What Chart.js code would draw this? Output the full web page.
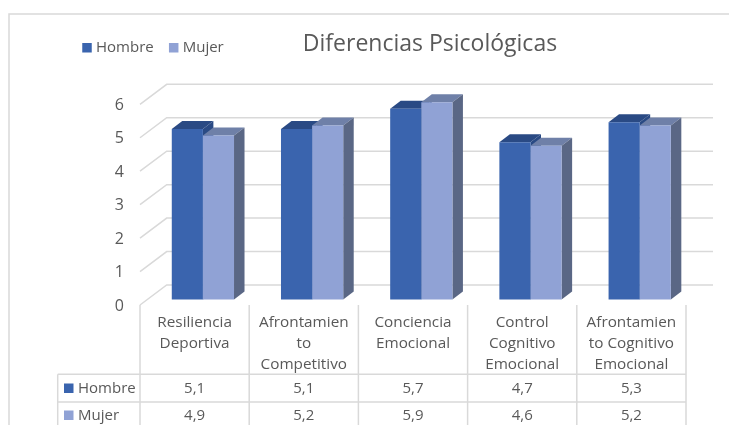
<!DOCTYPE html>
<html><head><meta charset="utf-8">
<style>html,body{margin:0;padding:0;background:#fff}canvas{display:block}</style>
<script src="https://cdn.jsdelivr.net/npm/chart.js@4"></script>
</head><body><canvas id="c" width="729" height="425"></canvas>
<script>
const categories=[['Resiliencia','Deportiva'],['Afrontamien','to','Competitivo'],['Conciencia','Emocional'],['Control','Cognitivo','Emocional'],['Afrontamien','to Cognitivo','Emocional']];
const hombre=[5.1,5.1,5.7,4.7,5.3];
const mujer=[4.9,5.2,5.9,4.6,5.2];
const yTicks=[0,1,2,3,4,5,6];
const titleText='Diferencias Psicológicas';
const FONT='"Open Sans"';
const TXT='#595959',GRID='#D9D9D9';
const C={h:'#3A64AE',m:'#90A2D5',hTop:'#2A4A84',hSide:'#2A4A84',mTop:'#6F80A8',mSide:'#5A6785'};
const UNIT=33.45, BAR_ZERO_SHIFT=6.5, BAR_X_SHIFT=8.3/109.2, AREA_H=222;
const points=a=>a.map((v,i)=>({x:i,y:v}));
const comma=v=>String(v).replace('.',',');

const deco={id:'deco',
 afterLayout(ch){
  const L=ch.legend,T=ch.titleBlock;
  L.left=67;L.top=21.8;
  const w=T.right-T.left;T.left=430-w/2;T.right=430+w/2;T.top=30.5;
 },
 beforeDatasetsDraw(ch){
  const c=ch.ctx,a=ch.chartArea,y=ch.scales.y;
  c.save();c.lineWidth=1.5;c.strokeStyle=GRID;
  c.beginPath();c.moveTo(729,14);c.lineTo(9,14);c.lineTo(9,425);c.stroke();
  y.ticks.forEach(t=>{const p=y.getPixelForValue(t.value);
   c.beginPath();c.moveTo(a.left,p-1);c.lineTo(a.left+26.7,p-21);c.lineTo(a.right+27,p-21);c.stroke();});
  const dx=10.5,dy=8;
  [[0,C.hTop,C.hSide],[1,C.mTop,C.mSide]].forEach(([i,top,side])=>{
   ch.getDatasetMeta(i).data.forEach(b=>{
    const l=b.x-b.width/2,r=b.x+b.width/2;
    c.fillStyle=top;c.beginPath();c.moveTo(l,b.y);c.lineTo(l+dx,b.y-dy);c.lineTo(r+dx,b.y-dy);c.lineTo(r,b.y);c.closePath();c.fill();
    c.fillStyle=side;c.beginPath();c.moveTo(r,b.y);c.lineTo(r+dx,b.y-dy);c.lineTo(r+dx,b.base-dy);c.lineTo(r,b.base);c.closePath();c.fill();
   });
  });
  c.restore();
 },
 afterDraw(ch){
  const c=ch.ctx,a=ch.chartArea,x=ch.scales.x;
  const step=(a.right-a.left)/categories.length;
  c.save();c.lineWidth=1.5;c.strokeStyle=GRID;
  for(let i=0;i<=categories.length;i++){const px=a.left+i*step;c.beginPath();c.moveTo(px,a.bottom-1);c.lineTo(px,425);c.stroke();}
  [374.3,402].forEach(py=>{c.beginPath();c.moveTo(57.7,py);c.lineTo(a.right,py);c.stroke();});
  c.beginPath();c.moveTo(57.7,374.3);c.lineTo(57.7,425);c.stroke();
  c.font='15px '+FONT;c.fillStyle=TXT;c.textBaseline='middle';
  const rows=[['Hombre',hombre,C.h,388.5],['Mujer',mujer,C.m,415.5]];
  rows.forEach(([n,vals,col,py])=>{
   c.fillStyle=col;c.fillRect(64,py-5,9.5,9.5);
   c.fillStyle=TXT;c.textAlign='left';c.fillText(n,78,py);
   c.textAlign='center';vals.forEach((v,i)=>c.fillText(comma(v),x.getPixelForTick(i),py));
  });
  c.restore();
 }};

new Chart(document.getElementById('c'),{
 type:'bar',
 data:{labels:categories,datasets:[
  {label:'Hombre',data:points(hombre),backgroundColor:C.h,xAxisID:'xBar',yAxisID:'yBar',borderWidth:0},
  {label:'Mujer',data:points(mujer),backgroundColor:C.m,xAxisID:'xBar',yAxisID:'yBar',borderWidth:0}
 ]},
 plugins:[deco],
 options:{responsive:false,animation:false,devicePixelRatio:1,
  categoryPercentage:0.57,barPercentage:1,
  layout:{padding:{left:0,right:43,top:0,bottom:0}},
  plugins:{
   tooltip:{enabled:false},
   title:{display:true,text:titleText,color:TXT,font:{family:FONT,size:23,weight:'normal',lineHeight:1.2},padding:{top:0,bottom:12.9}},
   legend:{position:'top',align:'start',labels:{color:TXT,font:{family:FONT,size:15},usePointStyle:true,pointStyle:'rect',boxWidth:3,boxHeight:9.5,padding:18.5}}
  },
  scales:{
   x:{type:'category',position:'bottom',offset:true,border:{display:false},grid:{display:false,drawTicks:false},
      afterFit(s){s.height=119;},
      ticks:{color:TXT,font:{family:FONT,size:15.3,lineHeight:1.39},padding:5.5,autoSkip:false,maxRotation:0,minRotation:0}},
   y:{type:'linear',position:'left',min:0,max:AREA_H/UNIT,border:{display:false},grid:{display:false,drawTicks:false},
      afterFit(s){s.width=140;},
      ticks:{stepSize:1,includeBounds:false,color:TXT,padding:16,font:{family:FONT,size:16},callback:v=>yTicks.includes(v)?String(v):''}},
   xBar:{type:'linear',axis:'x',display:false,offset:false,grid:{offset:false},min:-0.5-BAR_X_SHIFT,max:4.5-BAR_X_SHIFT},
   yBar:{type:'linear',axis:'y',display:false,min:-BAR_ZERO_SHIFT/UNIT,max:(AREA_H-BAR_ZERO_SHIFT)/UNIT}
  }
 }
});
</script></body></html>
